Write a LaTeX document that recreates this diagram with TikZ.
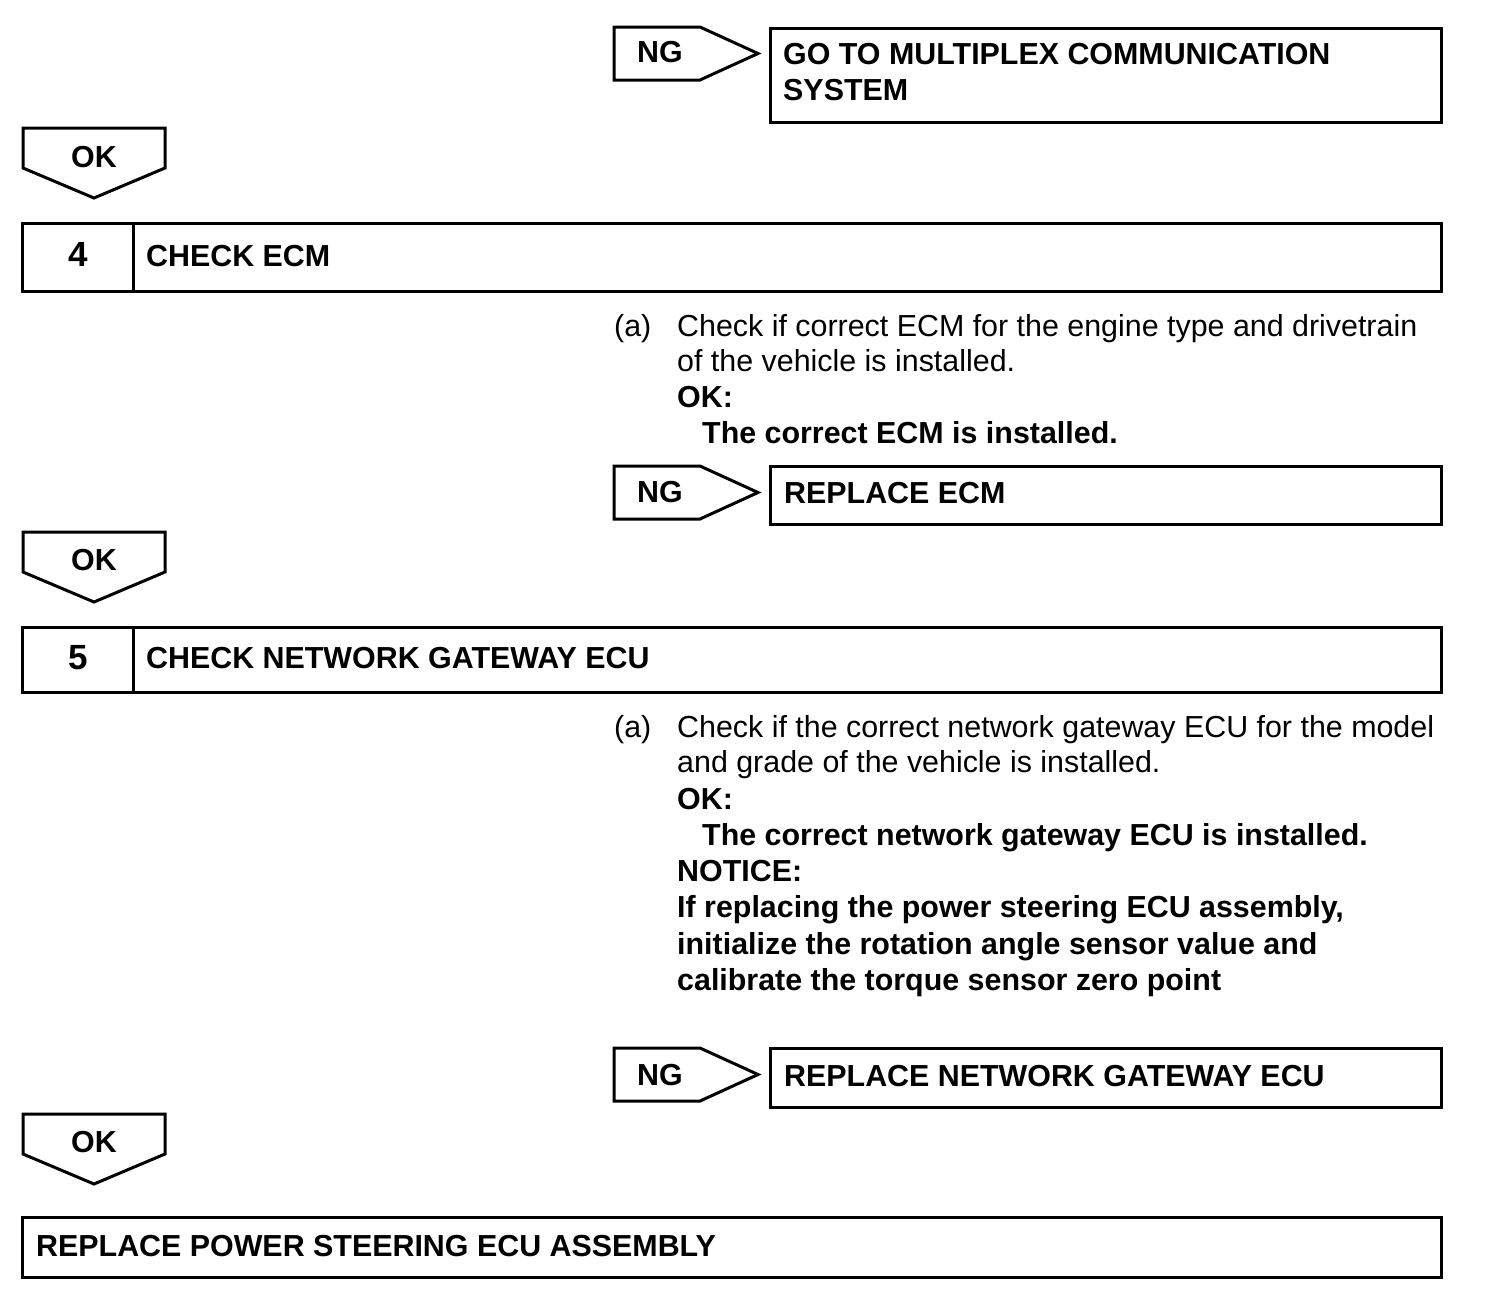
\documentclass[tikz,border=0pt]{standalone}
\usepackage{fontspec}
\setmainfont{Liberation Sans}
\begin{document}
\begin{tikzpicture}[x=1pt,y=-1pt,
  frame/.style={line width=3pt, line join=miter},
  head/.style={anchor=base west, inner sep=0pt, font=\fontsize{30.4}{36}\selectfont\bfseries},
  body/.style={anchor=base west, inner sep=0pt, font=\fontsize{30.4}{36}\selectfont},
  bbody/.style={anchor=base west, inner sep=0pt, font=\fontsize{30.4}{36}\selectfont\bfseries},
  tag/.style={anchor=base, inner sep=0pt, font=\fontsize{30.4}{36}\selectfont\bfseries},
  num/.style={anchor=base, inner sep=0pt, font=\fontsize{35}{40}\selectfont\bfseries}]
\useasboundingbox (0,0) rectangle (1504,1294);
\newcommand{\ngshape}[2]{% #1 top y, #2 bottom y
  \draw[frame] (614,#1) -- (700,#1) -- (758,{(#1+#2)/2}) -- (700,#2) -- (614,#2) -- cycle;}
\newcommand{\okshape}[1]{% #1 top y
  \draw[frame] (23,#1) -- (165,#1) -- (165,#1+40) -- (94,#1+70) -- (23,#1+40) -- cycle;}

% ---- top NG
\ngshape{27}{80}
\node[tag] (ng1) at (660,62.5) {NG};
\draw[frame] (770,28) rectangle (1441,122);
\node[head] (mux1) at (783,64.5) {GO TO MULTIPLEX COMMUNICATION};
\node[head] (mux2) at (783,100.5) {SYSTEM};

% ---- OK 1
\okshape{128}
\node[tag] (ok1) at (94,167) {OK};

% ---- step 4
\draw[frame] (22,223) rectangle (1441,291);
\draw[frame] (133,223) -- (133,291);
\node[num] (n4) at (78,266) {4};
\node[head] (s4) at (146,266) {CHECK ECM};

\node[body] (a4) at (614,336) {(a)};
\node[body] (a4l1) at (677,336) {Check if correct ECM for the engine type and drivetrain};
\node[body] (a4l2) at (677,371) {of the vehicle is installed.};
\node[bbody] (a4l3) at (677,407) {OK:};
\node[bbody] (a4l4) at (702,443) {The correct ECM is installed.};

\ngshape{466}{519}
\node[tag] (ng2) at (660,502) {NG};
\draw[frame] (770,466) rectangle (1441,524);
\node[head] (rep1) at (784,503) {REPLACE ECM};

% ---- OK 2
\okshape{532}
\node[tag] (ok2) at (94,570) {OK};

% ---- step 5
\draw[frame] (22,627) rectangle (1441,692);
\draw[frame] (133,627) -- (133,692);
\node[num] (n5) at (78,669) {5};
\node[head] (s5) at (146,668) {CHECK NETWORK GATEWAY ECU};

\node[body] (a5) at (614,737) {(a)};
\node[body] (a5l1) at (677,737) {Check if the correct network gateway ECU for the model};
\node[body] (a5l2) at (677,772) {and grade of the vehicle is installed.};
\node[bbody] (a5l3) at (677,809) {OK:};
\node[bbody] (a5l4) at (702,845) {The correct network gateway ECU is installed.};
\node[bbody] (a5l5) at (677,881) {NOTICE:};
\node[bbody] (a5l6) at (677,917) {If replacing the power steering ECU assembly,};
\node[bbody] (a5l7) at (677,954) {initialize the rotation angle sensor value and};
\node[bbody] (a5l8) at (677,990) {calibrate the torque sensor zero point};

\ngshape{1048}{1101}
\node[tag] (ng3) at (660,1085) {NG};
\draw[frame] (770,1048) rectangle (1441,1107);
\node[head] (rep2) at (784,1086) {REPLACE NETWORK GATEWAY ECU};

% ---- OK 3
\okshape{1114}
\node[tag] (ok3) at (94,1152) {OK};

% ---- final
\draw[frame] (22,1217) rectangle (1441,1277);
\node[head] (fin) at (36,1256) {REPLACE POWER STEERING ECU ASSEMBLY};
\end{tikzpicture}
\end{document}
